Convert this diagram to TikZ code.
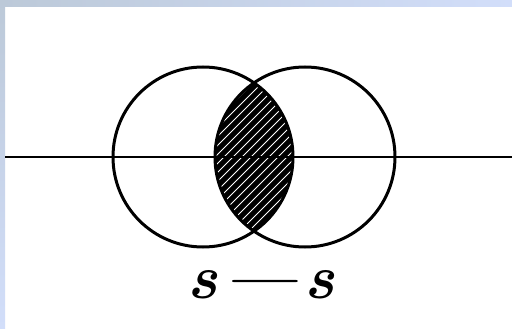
\documentclass[tikz,border=0pt]{standalone}
\usepackage{tikz}

\definecolor{framegrey}{RGB}{188,201,216}
\definecolor{frameblue}{RGB}{210,222,250}

\begin{document}
\begin{tikzpicture}[x=1pt, y=-1pt,
	ring/.style={line width=3pt},
	hatch/.style={white, line width=0.8pt}]
	\useasboundingbox (0,0) rectangle (512,329);
	\fill [white] (0,0) rectangle (512,329);
	\shade [left color=framegrey, right color=frameblue] (0,0) rectangle (512,7);
	\shade [top color=framegrey, bottom color=frameblue] (0,0) rectangle (5,329);
	
	\coordinate (lc) at (203,157);
	\coordinate (rc) at (305,157);
	\coordinate (west) at (5,157);
	\coordinate (east) at (512,157);
	
	% shaded common part
	\begin{scope}
		\clip (lc) circle (90pt);
		\clip (rc) circle (90pt);
		\fill [black] (lc) circle (90pt);
		\foreach \s in {300,309,...,530}
		{
			\draw [hatch] (\s-300,300) -- (\s,0);
		}
	\end{scope}
	
	\draw [ring] (lc) circle (90pt);
	\draw [ring] (rc) circle (90pt);
	\draw [line width=1.8pt] (west) -- (east);
	
	\node [font=\fontsize{62}{66}\selectfont\bfseries\itshape, anchor=base, inner sep=0pt] at (261,298) (lbl) {s\kern7pt---\kern7pt s};
\end{tikzpicture}
\end{document}
